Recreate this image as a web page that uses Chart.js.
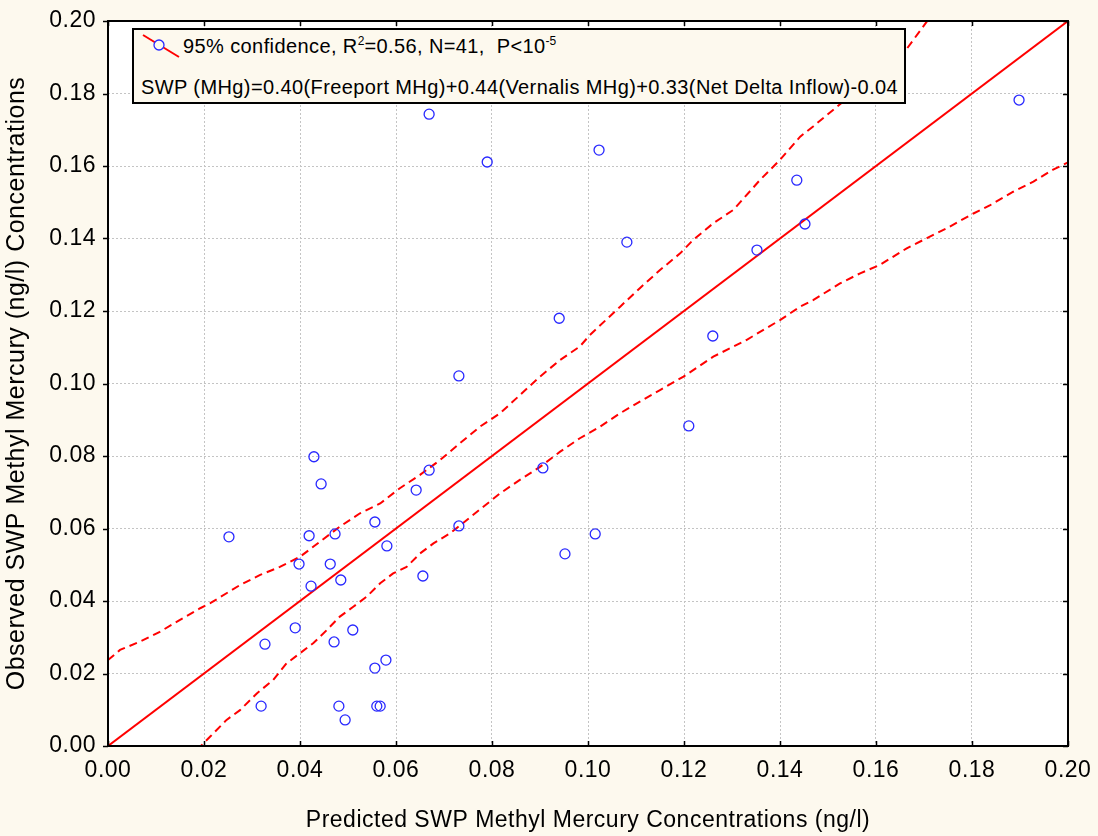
<!DOCTYPE html>
<html>
<head>
<meta charset="utf-8">
<script src="https://cdn.jsdelivr.net/npm/chart.js@4/dist/chart.umd.min.js"></script>
<style>
  body { margin: 0; background: #fdf9ee; }
  #wrap { position: relative; width: 1098px; height: 836px; }
  #legendBox {
    position: absolute; left: 132px; top: 28px; width: 774px; height: 76px;
    box-sizing: border-box; border: 2px solid #000; background: #fdf9ee;
    font-family: "Liberation Sans", Arial, sans-serif; font-size: 20px; letter-spacing: 0.4px; color: #000;
  }
  #legendBox .row { position: absolute; line-height: 20px; white-space: pre; }
  #legendBox sup { font-size: 12px; vertical-align: 8px; line-height: 0; letter-spacing: 0; }
  #legendBox svg { position: absolute; left: 0; top: 0; }
</style>
</head>
<body>
<div id="wrap">
  <canvas id="chart" width="1098" height="836"></canvas>
  <div id="legendBox">
    <svg width="60" height="40">
      <line x1="9" y1="5" x2="45" y2="27" stroke="#ff0000" stroke-width="2"/>
      <circle cx="25" cy="15" r="5" fill="#fdf9ee" stroke="#2828ff" stroke-width="1.3"/>
    </svg>
    <div class="row" style="left:49px; top:6px;">95% confidence, R<sup>2</sup>=0.56, N=41,  P&lt;10<sup>-5</sup></div>
    <div class="row" style="left:7px; top:47px;">SWP (MHg)=0.40(Freeport MHg)+0.44(Vernalis MHg)+0.33(Net Delta Inflow)-0.04</div>
  </div>
</div>
<script>
// observed vs predicted (ng/l)
const predicted = [0.0252, 0.0319, 0.0327, 0.039, 0.0398, 0.0419, 0.0423, 0.0429, 0.0444, 0.0463,
  0.0471, 0.0473, 0.0481, 0.0485, 0.0494, 0.051, 0.0556, 0.0556, 0.056, 0.0567,
  0.0579, 0.0581, 0.0642, 0.0656, 0.0669, 0.0669, 0.0731, 0.0731, 0.079, 0.0906,
  0.094, 0.0952, 0.1015, 0.1023, 0.1081, 0.121, 0.126, 0.1352, 0.1435, 0.1452, 0.1898];
const observed = [0.0577, 0.011, 0.0281, 0.0326, 0.0502, 0.058, 0.0441, 0.0798, 0.0723, 0.0502,
  0.0287, 0.0585, 0.011, 0.0458, 0.0072, 0.032, 0.0618, 0.0215, 0.011, 0.011,
  0.0237, 0.0552, 0.0706, 0.0469, 0.0761, 0.1743, 0.1021, 0.0607, 0.1611, 0.0767,
  0.118, 0.053, 0.0585, 0.1644, 0.139, 0.0883, 0.1131, 0.1368, 0.1561, 0.144, 0.1782];

// regression line
const fitX = [0, 0.2];
const fitY = [0, 0.2];

// 95% confidence bands
const upperX = [0, 0.0025, 0.0067, 0.0108, 0.015, 0.0192, 0.0213, 0.0275, 0.0317, 0.0358,
  0.04, 0.0442, 0.0483, 0.0525, 0.0567, 0.0608, 0.065, 0.0692, 0.0733, 0.0775,
  0.0817, 0.09, 0.0942, 0.0983, 0.1004, 0.1067, 0.1108, 0.115, 0.1192, 0.1219,
  0.1261, 0.1303, 0.1358, 0.14, 0.1442, 0.1469, 0.151, 0.1664, 0.1715];
const upperY = [0.0237, 0.0265, 0.0288, 0.0315, 0.0348, 0.038, 0.0394, 0.0444, 0.0472, 0.0494,
  0.0522, 0.0564, 0.0605, 0.0642, 0.0669, 0.0711, 0.0748, 0.0789, 0.0835, 0.0881,
  0.0918, 0.1019, 0.1065, 0.1102, 0.1134, 0.1212, 0.1263, 0.1313, 0.1359, 0.1396,
  0.1442, 0.1479, 0.1561, 0.1617, 0.1681, 0.1709, 0.1754, 0.1923, 0.2015];
const lowerX = [0.0185, 0.0213, 0.0247, 0.0275, 0.031, 0.0344, 0.0372, 0.04, 0.0428, 0.0456,
  0.0483, 0.0511, 0.0539, 0.0567, 0.0594, 0.0622, 0.065, 0.0678, 0.0713, 0.0747,
  0.0782, 0.0817, 0.0858, 0.09, 0.0942, 0.0983, 0.1025, 0.1067, 0.1108, 0.115,
  0.1199, 0.1261, 0.133, 0.14, 0.1442, 0.1469, 0.1525, 0.1567, 0.1608, 0.1664,
  0.1706, 0.1747, 0.1803, 0.1838, 0.1886, 0.1928, 0.1969, 0.2];
const lowerY = [-0.0011, 0.0026, 0.0072, 0.0099, 0.0145, 0.0182, 0.0228, 0.0256, 0.0284, 0.032,
  0.0357, 0.0384, 0.0412, 0.0449, 0.0476, 0.0494, 0.0531, 0.0559, 0.0587, 0.0623,
  0.066, 0.0697, 0.0734, 0.077, 0.0812, 0.0849, 0.0881, 0.0918, 0.095, 0.0982,
  0.1019, 0.1074, 0.112, 0.1175, 0.1212, 0.123, 0.1276, 0.1304, 0.1327, 0.1373,
  0.1401, 0.1428, 0.1469, 0.1492, 0.1529, 0.1557, 0.159, 0.161];

const tickStep = 0.02;
const xTitle = 'Predicted SWP Methyl Mercury Concentrations (ng/l)';
const yTitle = 'Observed SWP Methyl Mercury (ng/l) Concentrations';

const pts = (xs, ys) => xs.map((x, i) => ({ x: x, y: ys[i] }));
const FONT = '"Liberation Sans", Arial, sans-serif';

// white plot area, black frame and short tick marks
const framePlugin = {
  id: 'frame',
  beforeDraw(chart) {
    const { ctx, chartArea: a } = chart;
    ctx.letterSpacing = '0.5px';
    ctx.save();
    ctx.fillStyle = '#ffffff';
    ctx.fillRect(a.left, a.top, a.width, a.height);
    ctx.restore();
  },
  afterDraw(chart) {
    const { ctx, chartArea: a, scales } = chart;
    ctx.save();
    ctx.strokeStyle = '#000';
    ctx.lineWidth = 2;
    ctx.strokeRect(a.left, a.top, a.width, a.height);
    ctx.beginPath();
    scales.x.ticks.forEach(t => {
      const px = Math.round(scales.x.getPixelForValue(t.value)) + 0.5;
      ctx.moveTo(px, a.bottom); ctx.lineTo(px, a.bottom - 5);
      ctx.moveTo(px, a.top); ctx.lineTo(px, a.top + 5);
    });
    scales.y.ticks.forEach(t => {
      const py = Math.round(scales.y.getPixelForValue(t.value)) + 0.5;
      ctx.moveTo(a.left, py); ctx.lineTo(a.left - 5, py);
      ctx.moveTo(a.right, py); ctx.lineTo(a.right - 5, py);
    });
    ctx.lineWidth = 1.5;
    ctx.stroke();
    ctx.restore();
  }
};

new Chart(document.getElementById('chart'), {
  type: 'scatter',
  data: {
    datasets: [
      {
        label: 'observed',
        data: pts(predicted, observed),
        pointStyle: 'circle',
        pointRadius: 5,
        pointBorderWidth: 1.3,
        pointBorderColor: '#2828ff',
        pointBackgroundColor: 'rgba(255,255,255,0)',
        showLine: false
      },
      {
        label: 'fit',
        data: pts(fitX, fitY),
        showLine: true,
        borderColor: '#ff0000',
        borderWidth: 2,
        pointRadius: 0
      },
      {
        label: 'upper',
        data: pts(upperX, upperY),
        showLine: true,
        borderColor: '#ff0000',
        borderWidth: 2,
        borderDash: [8, 5],
        pointRadius: 0
      },
      {
        label: 'lower',
        data: pts(lowerX, lowerY),
        showLine: true,
        borderColor: '#ff0000',
        borderWidth: 2,
        borderDash: [8, 5],
        pointRadius: 0
      }
    ]
  },
  options: {
    responsive: false,
    animation: false,
    layout: { padding: { top: 21, right: 30, left: 0, bottom: 0 } },
    plugins: { legend: { display: false }, tooltip: { enabled: false } },
    scales: {
      x: {
        type: 'linear', min: 0, max: 0.2,
        ticks: {
          stepSize: tickStep, color: '#000', padding: 11, maxRotation: 0,
          font: { family: FONT, size: 23 },
          callback: v => v.toFixed(2)
        },
        grid: { color: '#c4c4c4', lineWidth: 1, drawTicks: false },
        border: { display: false, dash: [2, 2] },
        title: { display: true, text: xTitle, color: '#000', font: { family: FONT, size: 23 }, padding: { top: 0, bottom: 2 } },
        afterFit(s) { s.height = 90; s.paddingLeft = 0; s.paddingRight = 0; }
      },
      y: {
        type: 'linear', min: 0, max: 0.2,
        ticks: {
          stepSize: tickStep, color: '#000', padding: 12,
          font: { family: FONT, size: 23 },
          callback: v => v.toFixed(2)
        },
        grid: { color: '#c4c4c4', lineWidth: 1, drawTicks: false },
        border: { display: false, dash: [2, 2] },
        title: { display: true, text: yTitle, color: '#000', font: { family: FONT, size: 25 }, padding: 2 },
        afterFit(s) { s.width = 108; s.paddingTop = 0; s.paddingBottom = 0; }
      }
    }
  },
  plugins: [framePlugin]
});
</script>
</body>
</html>
